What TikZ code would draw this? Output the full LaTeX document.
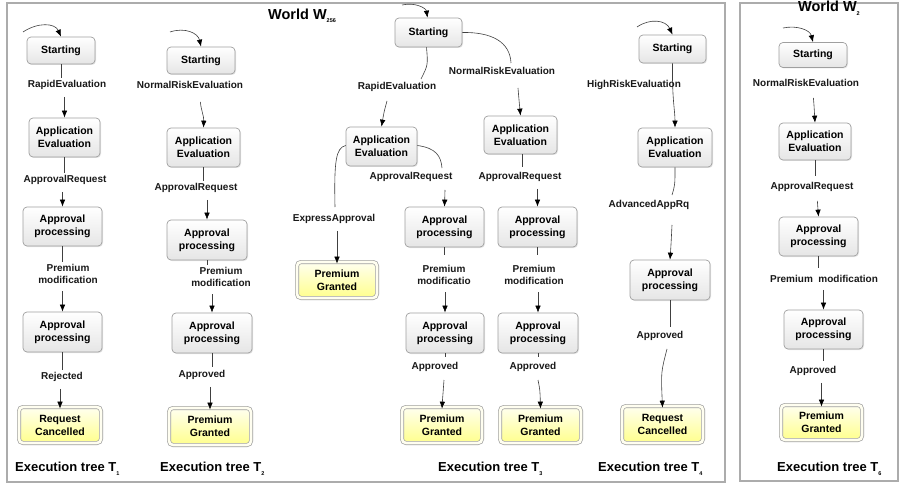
\documentclass[tikz,border=0pt]{standalone}
\usepackage{fontspec}
\setmainfont{Liberation Sans}
\usetikzlibrary{arrows.meta,shadows}

% small index set below the baseline
\newcommand\subidx[1]{\raisebox{-3.5pt}{\fontsize{5.5}{5.5}\selectfont #1}}

\begin{document}
\begin{tikzpicture}[x=1pt,y=-1pt,
  box/.style={rounded corners=4pt, draw=gray!75, line width=0.7pt,
    top color=white, bottom color=gray!20, align=center, inner sep=0pt,
    font=\fontsize{10.5}{13}\selectfont\bfseries,
    drop shadow={shadow xshift=1pt, shadow yshift=-1pt, opacity=0.2}},
  final/.style={rounded corners=4pt, draw=gray!75, line width=0.7pt,
    double=white!94!yellow, double distance=2.6pt,
    top color=yellow!6, bottom color=yellow!45, align=center, inner sep=0pt,
    font=\fontsize{10.5}{13}\selectfont\bfseries,
    drop shadow={shadow xshift=1pt, shadow yshift=-1pt, opacity=0.2}},
  lbl/.style={font=\fontsize{10}{12.5}\selectfont\bfseries, align=center,
    inner sep=2pt, text=black!90},
  link/.style={draw=gray!50!black, line width=0.6pt},
  arr/.style={link, -{Latex[length=7pt,width=5.5pt,color=black]}, shorten <=5pt},
  loop/.style={link, -{Latex[length=7pt,width=5.5pt,color=black]}},
  tree/.style={font=\fontsize{13}{15}\selectfont\bfseries, anchor=west, inner sep=0pt},
  world/.style={font=\fontsize{14.5}{16}\selectfont\bfseries, anchor=west, inner sep=0pt},
  frame/.style={draw=gray!65, line width=1.3pt},
]
\useasboundingbox (0,0) rectangle (900,484);
\fill[white] (0,0) rectangle (900,484);

% ---------- frames and titles ----------
\draw[frame] (7,3) rectangle (725,482);
\draw[frame] (740,3) rectangle (898,481);
\node[world] (w256) at (268,16) {World W\subidx{256}};
\node[world] (w2) at (798,8) {World W\subidx{2}};

% ---------- execution tree T1 ----------
\node[box, minimum width=68, minimum height=27] (s1) at (61,50.5) {Starting};
\node[lbl] (r1) at (67,85) {RapidEvaluation};
\node[box, minimum width=71, minimum height=39] (a1) at (64.5,137.5) {Application\\Evaluation};
\node[lbl] (q1) at (65,180) {ApprovalRequest};
\node[box, minimum width=79, minimum height=39] (p1) at (62.5,226.5) {Approval\\processing};
\node[lbl] (m1) at (68,274) {Premium\\modification};
\node[box, minimum width=79, minimum height=40] (p1b) at (62.5,332) {Approval\\processing};
\node[lbl] (x1) at (62,377) {Rejected};
\node[final, minimum width=82, minimum height=36] (c1) at (60,425) {Request\\Cancelled};
\node[tree] (t1) at (15,469) {Execution tree T\subidx{1}};

\coordinate (l1) at (23,32);
\draw[loop] (l1) .. controls (38,22) and (55,23) .. (s1.north);
\draw[link] (s1.south) -- (s1.south |- r1.north);
\draw[arr] (a1.north |- r1.south) -- (a1.north);
\draw[link] (a1.south) -- (a1.south |- q1.north);
\draw[arr] (p1.north |- q1.south) -- (p1.north);
\draw[link] (p1.south) -- (p1.south |- m1.north);
\draw[arr] (p1b.north |- m1.south) -- (p1b.north);
\draw[link] (p1b.south) -- (p1b.south |- x1.north);
\draw[arr] (c1.north |- x1.south) -- ([yshift=-2]c1.north);

% ---------- execution tree T2 ----------
\node[box, minimum width=68, minimum height=27] (s2) at (201,60.5) {Starting};
\node[lbl] (r2) at (190,85) {NormalRiskEvaluation};
\node[box, minimum width=73, minimum height=39] (a2) at (203.5,147.5) {Application\\Evaluation};
\node[lbl] (q2) at (196,188) {ApprovalRequest};
\node[box, minimum width=80, minimum height=40] (p2) at (207,240) {Approval\\processing};
\node[lbl] (m2) at (221,277) {Premium\\modification};
\node[box, minimum width=80, minimum height=40] (p2b) at (212,333) {Approval\\processing};
\node[lbl] (x2) at (202,375) {Approved};
\node[final, minimum width=82, minimum height=37] (g2) at (210,426.5) {Premium\\Granted};
\node[tree] (t2) at (160,469) {Execution tree T\subidx{2}};

\coordinate (l2) at (170,32);
\draw[loop] (l2) .. controls (185,27) and (198,33) .. (s2.north);
\draw[arr] (200,97) .. controls (201,110) and (204,116) .. (a2.north);
\draw[link] (a2.south) -- (a2.south |- q2.north);
\draw[arr] (p2.north |- q2.south) -- (p2.north);
\draw[link] (p2.south) -- ++(0,5);
\draw[arr] (p2b.north |- m2.south) -- (p2b.north);
\draw[link] (p2b.south) -- ++(0,14);
\draw[arr] (g2.north |- x2.south) -- ([yshift=-2]g2.north);

% ---------- execution tree T3 ----------
\node[box, minimum width=67, minimum height=29] (s3) at (428.5,32.5) {Starting};
\node[lbl] (r3) at (397,87) {RapidEvaluation};
\node[lbl] (n3) at (502,71) {NormalRiskEvaluation};
\node[box, minimum width=71, minimum height=39] (a3L) at (381.5,146.5) {Application\\Evaluation};
\node[box, minimum width=73, minimum height=38] (a3R) at (520.5,135) {Application\\Evaluation};
\node[lbl] (e3) at (334,219) {ExpressApproval};
\node[final, minimum width=80, minimum height=36] (g3L) at (337,280) {Premium\\Granted};
\node[lbl] (q3M) at (411,177) {ApprovalRequest};
\node[lbl] (q3R) at (520,177) {ApprovalRequest};
\node[box, minimum width=79, minimum height=40] (p3M) at (444.5,227) {Approval\\processing};
\node[box, minimum width=79, minimum height=40] (p3R) at (537.5,227) {Approval\\processing};
\node[lbl] (m3M) at (444,275) {Premium\\modificatio};
\node[lbl] (m3R) at (534,275) {Premium\\modification};
\node[box, minimum width=78, minimum height=40] (p3Mb) at (445,333) {Approval\\processing};
\node[box, minimum width=80, minimum height=40] (p3Rb) at (538,333) {Approval\\processing};
\node[lbl] (x3M) at (435,367) {Approved};
\node[lbl] (x3R) at (533,367) {Approved};
\node[final, minimum width=80, minimum height=36] (g3M) at (442,425) {Premium\\Granted};
\node[final, minimum width=81, minimum height=36] (g3R) at (540.5,425) {Premium\\Granted};
\node[tree] (t3) at (438,469) {Execution tree T\subidx{3}};

\coordinate (l3) at (402,5);
\draw[loop] (l3) .. controls (415,2) and (426,8) .. ([xshift=-1]s3.north);
% rapid branch
\coordinate (r3in) at (421,79);
\draw[link] ([xshift=-2]s3.south) .. controls (428,65) .. (r3in);
\draw[arr, shorten <=0pt] (387,101) .. controls (384,112) .. (a3L.north);
% normal-risk branch
\coordinate (n3in) at (511,63);
\draw[link] (s3.east) .. controls (492,32) and (510,42) .. (n3in);
\draw[arr, shorten <=0pt] (518,88) .. controls (519,100) .. (a3R.north);
% express approval
\coordinate (e3in) at (335,207);
\draw[link] ([yshift=1]a3L.west) .. controls (336,148) and (334,160) .. (e3in);
\draw[arr] (g3L.north |- e3.south) -- ([yshift=-2]g3L.north);
% approval request, middle
\coordinate (q3in) at (442,168);
\draw[link] ([yshift=1]a3L.east) .. controls (436,148) and (441,156) .. (q3in);
\draw[arr, shorten <=0pt] (445,190) -- (p3M.north);
% approval request, right
\draw[link] ([xshift=1.5]a3R.south) -- ++(0,13);
\draw[arr] (p3R.north |- q3R.south) -- (p3R.north);
% lower parts
\draw[link] (p3M.south) -- ++(0,8);
\draw[arr] (p3Mb.north |- m3M.south) -- (p3Mb.north);
\draw[link] (p3R.south) -- ++(0,8);
\draw[arr] (p3Rb.north |- m3R.south) -- (p3Rb.north);
\draw[link] (p3Mb.south) -- ++(0,4);
\draw[link] (p3Rb.south) -- ++(0,4);
\draw[arr, shorten <=0pt] (444,380) .. controls (443,390) .. ([yshift=-2]g3M.north);
\draw[arr, shorten <=0pt] (538,380) .. controls (540,390) .. ([yshift=-2]g3R.north);

% ---------- execution tree T4 ----------
\node[box, minimum width=67, minimum height=28] (s4) at (672.5,49) {Starting};
\node[box, minimum width=74, minimum height=39] (a4) at (675,147.5) {Application\\Evaluation};
\node[lbl] (d4) at (649,205) {AdvancedAppRq};
\node[box, minimum width=80, minimum height=40] (p4) at (670,280) {Approval\\processing};
\node[lbl] (x4) at (660,336) {Approved};
\node[final, minimum width=81, minimum height=37] (c4) at (662.5,424.5) {Request\\Cancelled};
\node[tree] (t4) at (598,469) {Execution tree T\subidx{4}};

\coordinate (l4) at (637,27);
\draw[loop] (l4) .. controls (650,18) and (666,20) .. (s4.north);
\draw[loop] (s4.south) .. controls (672,100) and (675,110) .. (a4.north);
\node[lbl] (h4) at (634,85) {HighRiskEvaluation};
\coordinate (d4in) at (672,195);
\draw[link] (a4.south) .. controls (675,185) .. (d4in);
\draw[arr, shorten <=0pt] (672,225) .. controls (671,245) .. (p4.north);
\draw[link] (p4.south) -- ++(0,27);
\draw[arr, shorten <=0pt] (667,349) .. controls (661,372) .. ([yshift=-2]c4.north);

% ---------- execution tree T6 ----------
\node[box, minimum width=68, minimum height=25] (s6) at (813,55) {Starting};
\node[lbl] (r6) at (806,83) {NormalRiskEvaluation};
\node[box, minimum width=72, minimum height=37] (a6) at (815,141.5) {Application\\Evaluation};
\node[lbl] (q6) at (812,187) {ApprovalRequest};
\node[box, minimum width=79, minimum height=39] (p6) at (818.5,236.5) {Approval\\processing};
\node[lbl] (m6) at (824,279) {Premium\ \ modification};
\node[box, minimum width=79, minimum height=39] (p6b) at (823.5,329.5) {Approval\\processing};
\node[lbl] (x6) at (813,371) {Approved};
\node[final, minimum width=81, minimum height=35] (g6) at (821.5,422.5) {Premium\\Granted};
\node[tree] (t6) at (777,469) {Execution tree T\subidx{6}};

\coordinate (l6) at (783,28);
\draw[loop] (l6) .. controls (797,25) and (810,30) .. (s6.north);
\draw[arr] (813,93) .. controls (814,105) .. (a6.north);
\draw[link] (a6.south) -- ++(0,16);
\draw[arr] (817,196) -- (p6.north);
\draw[link] (p6.south) -- ++(0,12);
\draw[arr] (p6b.north |- m6.south) -- (p6b.north);
\draw[link] (p6b.south) -- ++(0,12);
\draw[arr] (g6.north |- x6.south) -- ([yshift=-2]g6.north);
\end{tikzpicture}
\end{document}
